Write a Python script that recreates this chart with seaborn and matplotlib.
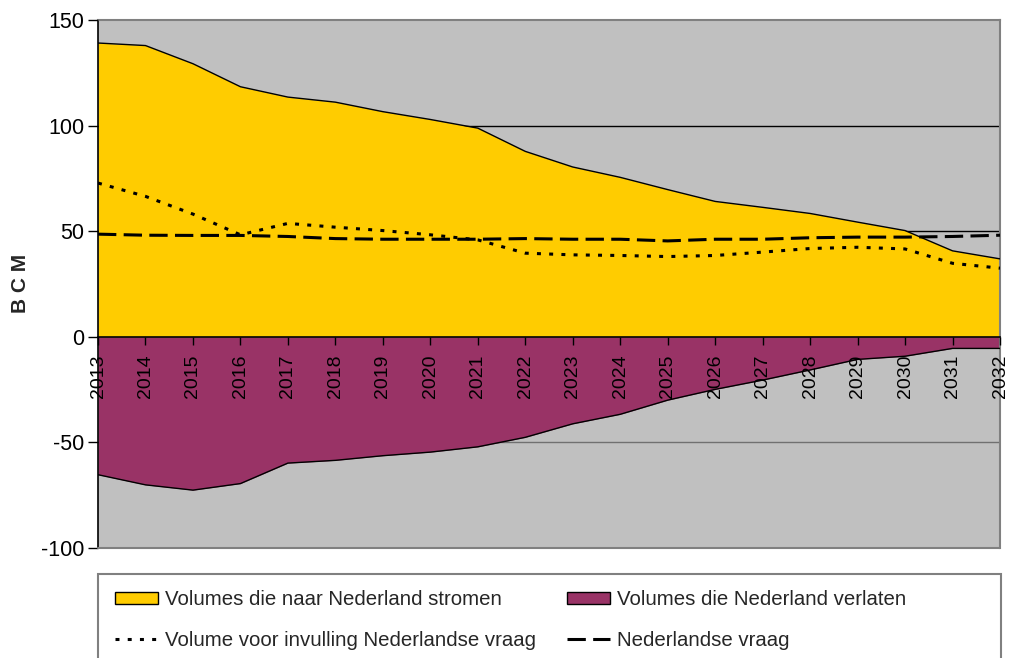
import matplotlib
matplotlib.use("Agg")
import pandas as pd
import seaborn as sns
import matplotlib.pyplot as plt
from matplotlib.patches import Patch, Rectangle
from matplotlib.lines import Line2D

# Gegevens, in BCM
jaren = [2013, 2014, 2015, 2016, 2017, 2018, 2019, 2020, 2021, 2022,
         2023, 2024, 2025, 2026, 2027, 2028, 2029, 2030, 2031, 2032]
instroom = [139.1, 137.9, 129.3, 118.4, 113.5, 111.1, 106.6, 102.9, 98.8, 87.8,
            80.4, 75.5, 69.7, 64.1, 61.3, 58.4, 54.3, 50.3, 40.7, 36.9]
uitstroom = [-65.3, -70.1, -72.6, -69.5, -59.8, -58.5, -56.3, -54.6, -52.1, -47.6,
             -41.2, -36.7, -30.0, -24.9, -20.5, -15.7, -10.7, -9.2, -5.5, -5.5]
invulling = [72.8, 66.5, 58.1, 48.3, 53.7, 51.9, 50.3, 48.3, 45.9, 39.6,
             38.8, 38.5, 38.0, 38.5, 40.1, 41.8, 42.4, 41.6, 34.8, 32.5]
vraag = [48.6, 48.1, 48.0, 48.0, 47.5, 46.5, 46.2, 46.2, 46.2, 46.5,
         46.2, 46.2, 45.4, 46.2, 46.2, 46.9, 47.2, 47.2, 47.5, 48.1]

labels = ["Volumes die naar Nederland stromen", "Volumes die Nederland verlaten",
          "Volume voor invulling Nederlandse vraag", "Nederlandse vraag"]

df = pd.DataFrame({"jaar": jaren, "instroom": instroom, "uitstroom": uitstroom,
                   "invulling": invulling, "vraag": vraag})

geel = "#FFCC00"
paars = "#993366"
grijs = "#C0C0C0"

sns.set_style("white")
plt.rcParams['font.family'] = ['Liberation Sans', 'DejaVu Sans']
plt.rcParams['axes.unicode_minus'] = False

fig = plt.figure(figsize=(10.1, 6.58), dpi=100)
ax = fig.add_axes([98 / 1010, 1 - 548 / 658, 902 / 1010, 528 / 658])
ax.set_facecolor(grijs)

# rasterlijnen achter de vlakken
for yv, kleur in [(100, "black"), (50, "black"), (-50, "#707070")]:
    ax.axhline(yv, color=kleur, lw=1, zorder=1)

# vlakken
ax.fill_between(df["jaar"], 0, df["instroom"], color=geel, lw=0, zorder=2)
ax.fill_between(df["jaar"], 0, df["uitstroom"], color=paars, lw=0, zorder=2)
sns.lineplot(data=df, x="jaar", y="instroom", ax=ax, color="black", lw=1, zorder=3)
sns.lineplot(data=df, x="jaar", y="uitstroom", ax=ax, color="black", lw=1, zorder=3)

# lijnen
stip = (0, (1.3, 2.7))
streep = (0, (6, 2.4))
sns.lineplot(data=df, x="jaar", y="invulling", ax=ax, color="black", lw=2.2,
             linestyle=stip, dash_capstyle="butt", zorder=4)
sns.lineplot(data=df, x="jaar", y="vraag", ax=ax, color="black", lw=2.2,
             linestyle=streep, dash_capstyle="butt", zorder=4)

ax.spines["bottom"].set_position(("data", 0))
ax.spines["bottom"].set_color("black")
ax.spines["bottom"].set_linewidth(1.2)
ax.spines["left"].set_color("black")
ax.spines["left"].set_linewidth(1.2)
for s in ["top", "right"]:
    ax.spines[s].set_color("#808080")
    ax.spines[s].set_linewidth(1.5)
ax.axhline(-100, color="#808080", lw=1.5, clip_on=False, zorder=5)

ax.set_xlim(2013, 2032)
ax.set_ylim(-100, 150)
ax.set_yticks([-100, -50, 0, 50, 100, 150])
ax.set_xticks(jaren)
ax.set_xticklabels([str(j) for j in jaren])
ax.set_xlabel("")
ax.set_ylabel("")

ax.tick_params(axis="y", direction="out", length=7, width=1, labelsize=15.5,
               pad=3, left=True, colors="black")
ax.tick_params(axis="x", direction="out", length=6, width=1, labelsize=14,
               pad=7, bottom=True, colors="black", labelrotation=90)
ax.xaxis.set_zorder(3.5)
ax.yaxis.set_zorder(3.5)

fig.text(20 / 1010, 1 - 283 / 658, "B C M", rotation=90, ha="center", va="center",
         fontsize=15, fontweight="bold")

# legenda
handles = [
    Patch(facecolor=geel, edgecolor="black", label=labels[0]),
    Line2D([], [], color="black", lw=2.2, linestyle=stip, label=labels[2]),
    Patch(facecolor=paars, edgecolor="black", label=labels[1]),
    Line2D([], [], color="black", lw=2.2, linestyle=streep, label=labels[3]),
]
fig.legend(handles=handles, loc="upper left", bbox_to_anchor=(107 / 1010, 1 - 582 / 658),
           ncol=2, frameon=False, fontsize=14.7, handlelength=2.1, handleheight=0.5,
           handletextpad=0.35, columnspacing=1.5, labelspacing=1.05, borderaxespad=0)
fig.patches.append(Rectangle((98 / 1010, -0.1), 903 / 1010, 0.1 + 84 / 658,
                             transform=fig.transFigure, fill=False,
                             edgecolor="#808080", lw=1.5))

fig.savefig("out.png", dpi=100)
